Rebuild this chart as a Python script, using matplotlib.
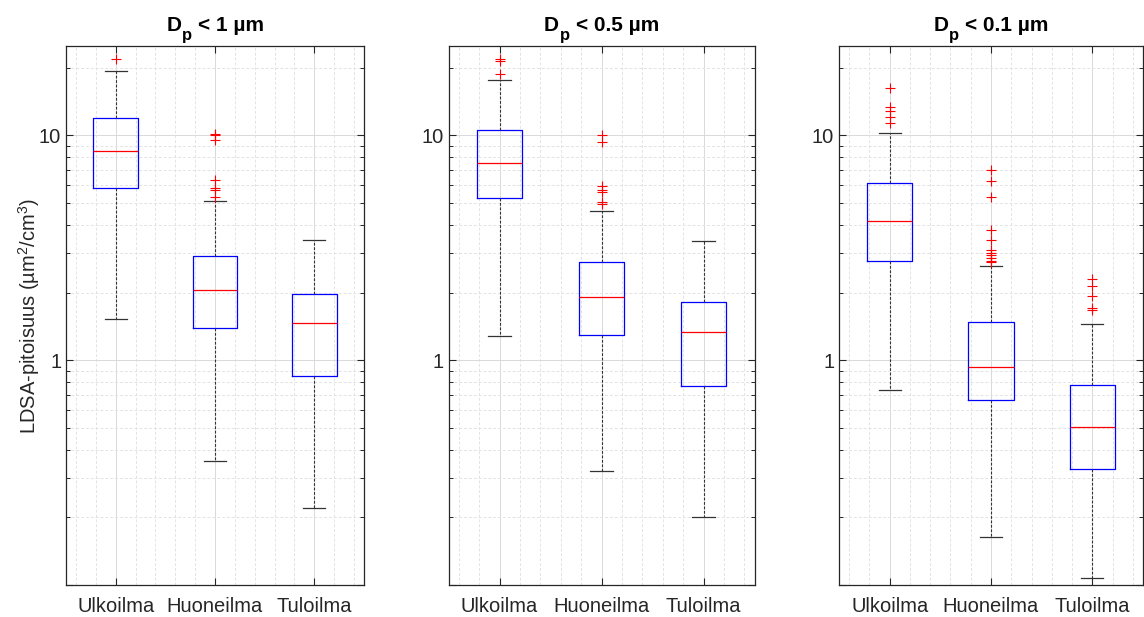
import matplotlib
matplotlib.use("Agg")
import matplotlib.pyplot as plt
from matplotlib.ticker import LogLocator, FixedLocator, NullFormatter, FixedFormatter

plt.rcParams['font.family'] = ['Liberation Sans', 'DejaVu Sans']
plt.rcParams['mathtext.fontset'] = 'custom'
plt.rcParams['mathtext.rm'] = 'Liberation Sans'

categories = ["Ulkoilma", "Huoneilma", "Tuloilma"]
title_limits = ["1", "0.5", "0.1"]

# Dp < 1 um
q1_1 = [5.82, 1.39, 0.855]
med_1 = [8.57, 2.05, 1.46]
q3_1 = [12.0, 2.90, 1.98]
lo_1 = [1.52, 0.358, 0.221]
hi_1 = [19.4, 5.11, 3.44]
fl_1 = [[21.8], [10.2, 10.0, 9.5, 6.34, 5.84, 5.74, 5.30], []]

# Dp < 0.5 um
q1_2 = [5.29, 1.29, 0.771]
med_2 = [7.55, 1.91, 1.34]
q3_2 = [10.6, 2.73, 1.82]
lo_2 = [1.28, 0.32, 0.20]
hi_2 = [17.7, 4.63, 3.39]
fl_2 = [[21.8, 21.5, 18.7], [10.0, 9.34, 5.94, 5.74, 5.58, 5.04, 4.97], []]

# Dp < 0.1 um
q1_3 = [2.75, 0.663, 0.328]
med_3 = [4.16, 0.934, 0.507]
q3_3 = [6.15, 1.48, 0.779]
lo_3 = [0.74, 0.163, 0.107]
hi_3 = [10.3, 2.62, 1.45]
fl_3 = [[16.3, 13.4, 12.8, 12.1, 11.4],
        [7.05, 6.30, 5.30, 3.79, 3.42, 3.08, 3.01, 2.94, 2.84, 2.77, 2.74],
        [2.29, 2.14, 1.93, 1.70, 1.67]]

panels = [
    (q1_1, med_1, q3_1, lo_1, hi_1, fl_1),
    (q1_2, med_2, q3_2, lo_2, hi_2, fl_2),
    (q1_3, med_3, q3_3, lo_3, hi_3, fl_3),
]

W, H = 1144, 617
fig = plt.figure(figsize=(W / 100, H / 100), dpi=100)
boxes_px = [(66, 364), (448.5, 754.5), (839, 1143)]
top_px, bot_px = 46, 585
renderer = fig.canvas.get_renderer()


def sub_title(cx, base_y, limit):
    # MATLAB style "D_p < x um": subscript hangs below the baseline
    parts = [("D", 15, 0, 0.5), ("p", 12, -9, 6), ("< " + limit + " µm", 15, 0, 0)]
    texts, widths = [], []
    for s, size, dy, gap in parts:
        t = fig.text(0, 0, s, fontsize=size, fontweight="bold", color="black")
        widths.append(t.get_window_extent(renderer).width)
        texts.append(t)
    total = sum(widths) + sum(p[3] for p in parts)
    x = cx - total / 2
    for t, w, (s, size, dy, gap) in zip(texts, widths, parts):
        t.set_position((x / W, (H - base_y + dy) / H))
        t.set_va("baseline")
        x += w + gap


edge = "#262626"
for k, (q1, med, q3, lo, hi, fl) in enumerate(panels):
    l, r = boxes_px[k]
    ax = fig.add_axes([l / W, (H - bot_px) / H, (r - l) / W, (bot_px - top_px) / H])
    stats = []
    for i in range(3):
        stats.append(dict(q1=q1[i], med=med[i], q3=q3[i], whislo=lo[i], whishi=hi[i],
                          fliers=fl[i], label=categories[i]))
    ax.bxp(stats, positions=[1, 2, 3], widths=0.45, capwidths=0.22,
           boxprops=dict(color="blue", linewidth=0.9),
           medianprops=dict(color="red", linewidth=0.9),
           whiskerprops=dict(color="#333333", linestyle=(0, (2.5, 1.5)), linewidth=0.8),
           capprops=dict(color="#333333", linewidth=0.9),
           flierprops=dict(marker="+", markeredgecolor="red", markersize=6.5, markeredgewidth=0.8,
                           linestyle="none"))
    ax.set_yscale("log")
    ax.set_ylim(0.1, 25)
    ax.set_xlim(0.5, 3.5)
    ax.yaxis.set_major_locator(FixedLocator([0.1, 1, 10]))
    ax.yaxis.set_major_formatter(FixedFormatter(["", "1", "10"]))
    ax.yaxis.set_minor_locator(LogLocator(base=10, subs=range(2, 10)))
    ax.yaxis.set_minor_formatter(NullFormatter())
    ax.set_xticks([1, 2, 3])
    ax.set_xticklabels(categories)
    ax.set_xticks([0.6, 0.8, 1.2, 1.4, 1.6, 1.8, 2.2, 2.4, 2.6, 2.8, 3.2, 3.4], minor=True)
    ax.tick_params(axis="both", which="both", direction="in", top=True, right=True,
                   color=edge, labelcolor=edge)
    ax.tick_params(axis="both", which="major", length=5, width=0.8, labelsize=14.5)
    ax.tick_params(axis="y", which="minor", length=3, width=0.7)
    ax.tick_params(axis="x", which="minor", length=0)
    ax.tick_params(axis="x", which="major", pad=9)
    ax.grid(True, which="major", color="#d9d9d9", linewidth=0.7, linestyle="-")
    ax.grid(True, which="minor", color="#e3e3e3", linewidth=0.7, linestyle=(0, (3, 2)))
    ax.set_axisbelow(True)
    for s in ax.spines.values():
        s.set_color(edge)
        s.set_linewidth(0.9)
    sub_title((l + r) / 2, 31, title_limits[k])
    if k == 0:
        ax.set_ylabel("LDSA-pitoisuus (µm$^2$/cm$^3$)", fontsize=14.5, color=edge, labelpad=-2)

fig.savefig("out.png", dpi=100)
